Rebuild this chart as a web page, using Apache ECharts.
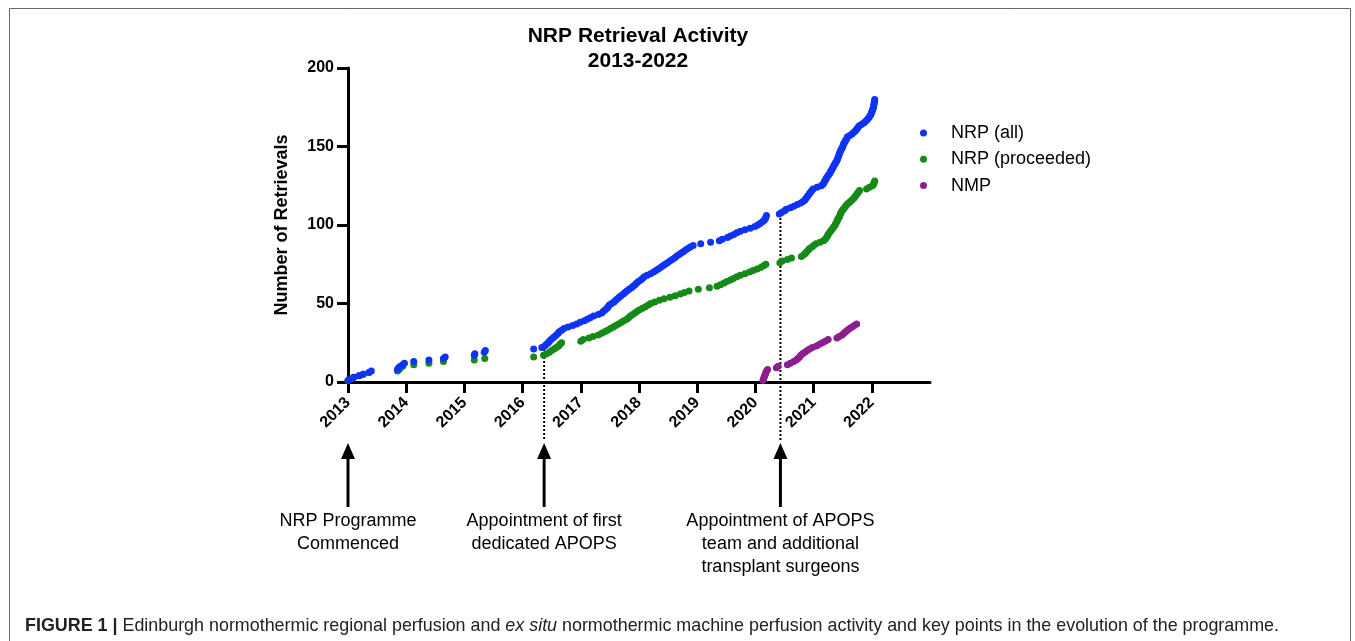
<!DOCTYPE html>
<html>
<head>
<meta charset="utf-8">
<title>NRP Retrieval Activity 2013-2022</title>
<script src="https://cdn.jsdelivr.net/npm/echarts@6/dist/echarts.min.js"></script>
<style>
  html, body { margin: 0; padding: 0; background: #fff; }
  #chart { width: 1355px; height: 641px; }
</style>
</head>
<body>
<div id="chart"></div>
<script>
// Cumulative retrievals: [date as decimal year, running count]
const nrpAll = [
  [2013.00,1],[2013.06,2],[2013.10,3],[2013.19,4],[2013.26,5],[2013.36,6],[2013.40,7],
  [2013.85,8],[2013.87,9],[2013.90,10],[2013.94,11],[2013.97,12],[2014.13,13],[2014.39,14],
  [2014.64,15],[2014.67,16],[2015.17,17],[2015.18,18],[2015.34,19],[2015.36,20],[2016.19,21],
  [2016.33,22],[2016.38,23],[2016.41,24],[2016.44,25],[2016.46,26],[2016.49,27],[2016.52,28],[2016.55,29],[2016.58,30],
  [2016.61,31],[2016.63,32],[2016.67,33],[2016.71,34],[2016.78,35],[2016.86,36],[2016.93,37],[2016.99,38],[2017.06,39],[2017.11,40],
  [2017.16,41],[2017.22,42],[2017.30,43],[2017.36,44],[2017.39,45],[2017.42,46],[2017.45,47],[2017.47,48],[2017.49,49],[2017.53,50],
  [2017.57,51],[2017.60,52],[2017.63,53],[2017.66,54],[2017.69,55],[2017.73,56],[2017.76,57],[2017.79,58],[2017.83,59],[2017.87,60],
  [2017.90,61],[2017.93,62],[2017.96,63],[2017.99,64],[2018.03,65],[2018.06,66],[2018.09,67],[2018.14,68],[2018.20,69],[2018.25,70],
  [2018.29,71],[2018.33,72],[2018.37,73],[2018.41,74],[2018.45,75],[2018.49,76],[2018.53,77],[2018.57,78],[2018.61,79],[2018.64,80],
  [2018.68,81],[2018.72,82],[2018.76,83],[2018.80,84],[2018.84,85],[2018.88,86],[2018.93,87],[2019.06,88],[2019.23,89],[2019.38,90],
  [2019.43,91],[2019.52,92],[2019.57,93],[2019.63,94],[2019.68,95],[2019.74,96],[2019.82,97],[2019.91,98],[2019.99,99],[2020.04,100],
  [2020.08,101],[2020.12,102],[2020.15,103],[2020.17,104],[2020.18,105],[2020.19,106],[2020.41,107],[2020.45,108],[2020.50,109],[2020.53,110],
  [2020.60,111],[2020.66,112],[2020.72,113],[2020.78,114],[2020.82,115],[2020.85,116],[2020.87,117],[2020.89,118],[2020.91,119],[2020.93,120],
  [2020.95,121],[2020.97,122],[2020.99,123],[2021.06,124],[2021.13,125],[2021.16,126],[2021.18,127],[2021.19,128],[2021.21,129],[2021.22,130],
  [2021.24,131],[2021.26,132],[2021.28,133],[2021.29,134],[2021.31,135],[2021.32,136],[2021.34,137],[2021.35,138],[2021.37,139],[2021.38,140],
  [2021.40,141],[2021.41,142],[2021.42,143],[2021.43,144],[2021.44,145],[2021.45,146],[2021.46,147],[2021.47,148],[2021.49,149],[2021.50,150],
  [2021.51,151],[2021.52,152],[2021.54,153],[2021.55,154],[2021.57,155],[2021.58,156],[2021.62,157],[2021.66,158],[2021.69,159],[2021.72,160],
  [2021.74,161],[2021.76,162],[2021.78,163],[2021.82,164],[2021.86,165],[2021.89,166],[2021.92,167],[2021.94,168],[2021.96,169],[2021.98,170],
  [2021.99,171],[2022.00,172],[2022.01,173],[2022.02,174],[2022.03,175],[2022.03,176],[2022.04,177],[2022.04,178],[2022.05,179],[2022.05,180]
];

const nrpProceeded = [
  [2013.00,1],[2013.06,2],[2013.10,3],[2013.19,4],[2013.26,5],[2013.36,6],[2013.85,7],[2013.88,8],[2013.90,9],[2013.94,10],
  [2014.13,11],[2014.39,12],[2014.64,13],[2015.17,14],[2015.35,15],[2016.19,16],[2016.36,17],[2016.41,18],[2016.46,19],[2016.50,20],
  [2016.54,21],[2016.58,22],[2016.62,23],[2016.64,24],[2016.67,25],[2017.00,26],[2017.04,27],[2017.14,28],[2017.21,29],[2017.30,30],
  [2017.36,31],[2017.41,32],[2017.46,33],[2017.51,34],[2017.56,35],[2017.60,36],[2017.65,37],[2017.70,38],[2017.74,39],[2017.79,40],
  [2017.82,41],[2017.85,42],[2017.89,43],[2017.93,44],[2017.97,45],[2018.01,46],[2018.06,47],[2018.11,48],[2018.16,49],[2018.20,50],
  [2018.27,51],[2018.35,52],[2018.43,53],[2018.53,54],[2018.62,55],[2018.71,56],[2018.78,57],[2018.86,58],[2019.02,59],[2019.21,60],
  [2019.34,61],[2019.40,62],[2019.46,63],[2019.51,64],[2019.57,65],[2019.62,66],[2019.68,67],[2019.74,68],[2019.82,69],[2019.90,70],
  [2019.96,71],[2020.03,72],[2020.09,73],[2020.14,74],[2020.18,75],[2020.42,76],[2020.46,77],[2020.55,78],[2020.62,79],[2020.79,80],
  [2020.83,81],[2020.86,82],[2020.88,83],[2020.91,84],[2020.93,85],[2020.97,86],[2021.00,87],[2021.04,88],[2021.11,89],[2021.17,90],
  [2021.20,91],[2021.22,92],[2021.24,93],[2021.25,94],[2021.27,95],[2021.29,96],[2021.31,97],[2021.33,98],[2021.35,99],[2021.37,100],
  [2021.38,101],[2021.40,102],[2021.41,103],[2021.42,104],[2021.44,105],[2021.45,106],[2021.46,107],[2021.47,108],[2021.49,109],[2021.51,110],
  [2021.53,111],[2021.55,112],[2021.57,113],[2021.60,114],[2021.63,115],[2021.66,116],[2021.69,117],[2021.71,118],[2021.73,119],[2021.75,120],
  [2021.77,121],[2021.79,122],[2021.91,123],[2021.96,124],[2022.01,125],[2022.03,126],[2022.04,127],[2022.05,128]
];

const nmp = [
  [2020.13,1],[2020.14,2],[2020.15,3],[2020.16,4],[2020.17,5],[2020.18,6],[2020.19,7],[2020.21,8],[2020.36,9],[2020.39,10],
  [2020.55,11],[2020.60,12],[2020.66,13],[2020.70,14],[2020.73,15],[2020.76,16],[2020.78,17],[2020.81,18],[2020.85,19],[2020.89,20],
  [2020.93,21],[2020.98,22],[2021.05,23],[2021.10,24],[2021.15,25],[2021.20,26],[2021.25,27],[2021.40,28],[2021.44,29],[2021.49,30],
  [2021.52,31],[2021.55,32],[2021.58,33],[2021.62,34],[2021.66,35],[2021.70,36],[2021.74,37]
];

const seriesNames = ['NRP (all)', 'NRP (proceeded)', 'NMP'];
const yearTicks = [2013, 2014, 2015, 2016, 2017, 2018, 2019, 2020, 2021, 2022];

// Programme milestones: date, the cumulative count the guide line starts from, caption lines
const milestoneDates = [2013.0, 2016.37, 2020.43];
const milestoneCounts = [null, 21, 107];
const milestoneLabels = [
  ['NRP Programme', 'Commenced'],
  ['Appointment of first', 'dedicated APOPS'],
  ['Appointment of APOPS', 'team and additional', 'transplant surgeons']
];

const FONT = '"Liberation Sans", Arial, Helvetica, sans-serif';
const COLORS = ['#0f33f5', '#168a16', '#8a1f8f'];

const chart = echarts.init(document.getElementById('chart'), null, { renderer: 'canvas' });

const axisLine = { show: true, lineStyle: { color: '#000', width: 3 } };
const axisTick = { show: true, length: 11, lineStyle: { color: '#000', width: 3 } };

chart.setOption({
  backgroundColor: '#fff',
  animation: false,
  title: {
    text: 'NRP Retrieval Activity\n2013-2022',
    left: 638,
    top: 24,
    padding: 0,
    textAlign: 'center',
    textStyle: { fontFamily: FONT, fontSize: 21, fontWeight: 'bold', color: '#000', lineHeight: 25 }
  },
  legend: {
    data: seriesNames,
    orient: 'vertical',
    left: 915,
    top: 119,
    icon: 'circle',
    itemWidth: 45,
    itemHeight: 7,
    itemGap: 8.3,
    textStyle: { fontFamily: FONT, fontSize: 18, color: '#000', lineHeight: 18 }
  },
  grid: { left: 348, right: 425, top: 68, bottom: 259, containLabel: false },
  xAxis: {
    type: 'value',
    min: 2013,
    max: 2023,
    interval: 1,
    splitLine: { show: false },
    axisLine: axisLine,
    axisTick: Object.assign({ customValues: yearTicks }, axisTick),
    axisLabel: {
      customValues: yearTicks,
      rotate: 45,
      margin: 18,
      fontFamily: FONT,
      fontSize: 16,
      fontWeight: 'bold',
      color: '#000',
      formatter: v => String(v)
    }
  },
  yAxis: {
    type: 'value',
    min: 0,
    max: 200,
    interval: 50,
    name: 'Number of Retrievals',
    nameLocation: 'middle',
    nameGap: 57,
    nameTextStyle: { fontFamily: FONT, fontSize: 18, fontWeight: 'bold', color: '#000' },
    splitLine: { show: false },
    axisLine: axisLine,
    axisTick: axisTick,
    axisLabel: { margin: 14, fontFamily: FONT, fontSize: 16, fontWeight: 'bold', color: '#000' }
  },
  series: [
    { name: seriesNames[0], type: 'scatter', data: nrpAll, symbolSize: 7, z: 4,
      itemStyle: { color: COLORS[0], opacity: 1 }, emphasis: { disabled: true } },
    { name: seriesNames[1], type: 'scatter', data: nrpProceeded, symbolSize: 7, z: 3,
      itemStyle: { color: COLORS[1], opacity: 1 }, emphasis: { disabled: true } },
    { name: seriesNames[2], type: 'scatter', data: nmp, symbolSize: 7, z: 3,
      itemStyle: { color: COLORS[2], opacity: 1 }, emphasis: { disabled: true } }
  ]
});

// Milestone guides, arrows and captions, positioned through the axes
const toPx = v => chart.convertToPixel({ gridIndex: 0 }, v);
const baseY = toPx([2013, 0])[1];
const elements = [
  // figure frame
  { type: 'rect', silent: true, z: 0,
    shape: { x: 9.5, y: 8.5, width: 1341, height: 700 },
    style: { fill: null, stroke: '#666', lineWidth: 1 } },
  // figure caption
  { type: 'text', silent: true, x: 25, y: 626,
    style: {
      text: '{b|FIGURE 1 | }Edinburgh normothermic regional perfusion and {i|ex situ} normothermic machine perfusion activity and key points in the evolution of the programme.',
      fontFamily: FONT, fontSize: 17.9, fill: '#222', verticalAlign: 'middle', align: 'left',
      rich: {
        b: { fontFamily: FONT, fontSize: 17.9, fontWeight: 'bold', fill: '#222' },
        i: { fontFamily: FONT, fontSize: 17.9, fontStyle: 'italic', fill: '#222' }
      }
    } }
];

milestoneDates.forEach((date, i) => {
  const count = milestoneCounts[i];
  const x = toPx([date, 0])[0];
  if (count !== null) {
    const yTop = toPx([date, count])[1];
    elements.push({ type: 'line', silent: true, z: 1,
      shape: { x1: x, y1: yTop, x2: x, y2: baseY + 58 },
      style: { stroke: '#000', lineWidth: 2, lineDash: [2, 2] } });
  }
  elements.push({ type: 'polygon', silent: true,
    shape: { points: [[x, baseY + 61], [x - 7, baseY + 77], [x + 7, baseY + 77]] },
    style: { fill: '#000' } });
  elements.push({ type: 'rect', silent: true,
    shape: { x: x - 1.5, y: baseY + 75, width: 3, height: 50 },
    style: { fill: '#000' } });
  elements.push({ type: 'text', silent: true, x: x, y: baseY + 128,
    style: { text: milestoneLabels[i].join('\n'), fontFamily: FONT, fontSize: 18, lineHeight: 23,
             fill: '#000', align: 'center', verticalAlign: 'top' } });
});

chart.setOption({ graphic: { elements: elements } });
</script>
</body>
</html>
